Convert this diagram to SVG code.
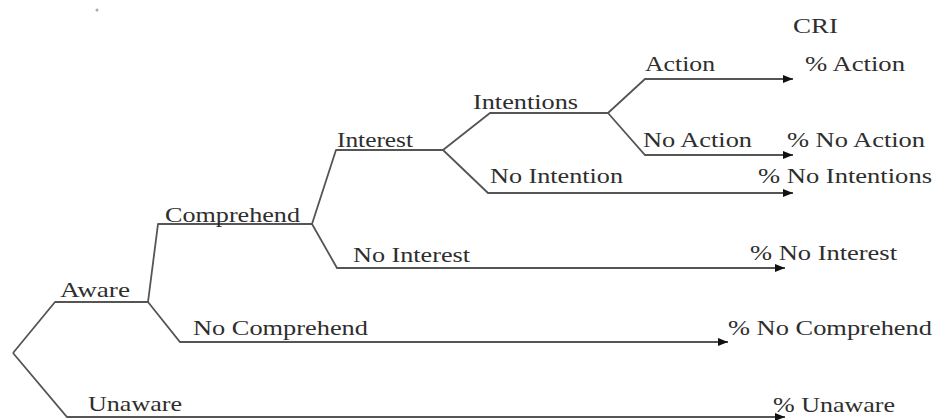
<svg xmlns="http://www.w3.org/2000/svg" width="936" height="420" viewBox="0 0 936 420">
<style>
.t{font-family:"Liberation Serif","Times New Roman",serif;font-size:21px;fill:#2e2e2e}
.c{fill:none;stroke:#555;stroke-width:1.8;stroke-linejoin:round}
.a{fill:none;stroke:#555;stroke-width:1.8;marker-end:url(#ah)}
</style>
<defs>
<marker id="ah" viewBox="0 0 10 8" refX="10" refY="4" markerWidth="10" markerHeight="8" markerUnits="userSpaceOnUse" orient="auto">
<path d="M0,0 L10,4 L0,8 Z" fill="#111"/>
</marker>
</defs>
<rect width="936" height="420" fill="#fff"/>
<circle cx="97" cy="10" r="1.5" fill="#aaa"/>
<g id="connectors">
<polyline class="c" points="13,353 55,302 148,302"/>
<polyline class="a" points="13,353 67,417 785,417"/>
<polyline class="c" points="148,302 158,224 312,224"/>
<polyline class="a" points="148,302 180,342 728,342"/>
<polyline class="c" points="312,224 336,150 443,150"/>
<polyline class="a" points="312,224 337,268 785,268"/>
<polyline class="c" points="443,150 490,113 608,113"/>
<polyline class="a" points="443,150 488,193 793,193"/>
<polyline class="a" points="608,113 645,79 793,79"/>
<polyline class="a" points="608,113 645,155 793,155"/>
</g>
<g id="header"><text class="t" x="793" y="33" textLength="45" lengthAdjust="spacingAndGlyphs">CRI</text></g>
<g id="aware"><text class="t" x="60" y="297" textLength="70" lengthAdjust="spacingAndGlyphs">Aware</text></g>
<g id="unaware"><text class="t" x="88" y="411" textLength="94" lengthAdjust="spacingAndGlyphs">Unaware</text></g>
<g id="comprehend"><text class="t" x="165" y="222" textLength="135" lengthAdjust="spacingAndGlyphs">Comprehend</text></g>
<g id="no-comprehend"><text class="t" x="193" y="335" textLength="175" lengthAdjust="spacingAndGlyphs">No Comprehend</text></g>
<g id="interest"><text class="t" x="337" y="147" textLength="76" lengthAdjust="spacingAndGlyphs">Interest</text></g>
<g id="no-interest"><text class="t" x="353" y="262" textLength="117" lengthAdjust="spacingAndGlyphs">No Interest</text></g>
<g id="intentions"><text class="t" x="473" y="109" textLength="105" lengthAdjust="spacingAndGlyphs">Intentions</text></g>
<g id="no-intention"><text class="t" x="490" y="183" textLength="133" lengthAdjust="spacingAndGlyphs">No Intention</text></g>
<g id="action"><text class="t" x="645" y="71" textLength="70" lengthAdjust="spacingAndGlyphs">Action</text></g>
<g id="no-action"><text class="t" x="643" y="147" textLength="109" lengthAdjust="spacingAndGlyphs">No Action</text></g>
<g id="pct-action"><text class="t" x="805" y="71" textLength="100" lengthAdjust="spacingAndGlyphs">% Action</text></g>
<g id="pct-no-action"><text class="t" x="787" y="147" textLength="138" lengthAdjust="spacingAndGlyphs">% No Action</text></g>
<g id="pct-no-intentions"><text class="t" x="758" y="183" textLength="174" lengthAdjust="spacingAndGlyphs">% No Intentions</text></g>
<g id="pct-no-interest"><text class="t" x="750" y="260" textLength="147" lengthAdjust="spacingAndGlyphs">% No Interest</text></g>
<g id="pct-no-comprehend"><text class="t" x="728" y="335" textLength="204" lengthAdjust="spacingAndGlyphs">% No Comprehend</text></g>
<g id="pct-unaware"><text class="t" x="773" y="412" textLength="122" lengthAdjust="spacingAndGlyphs">% Unaware</text></g>
</svg>
